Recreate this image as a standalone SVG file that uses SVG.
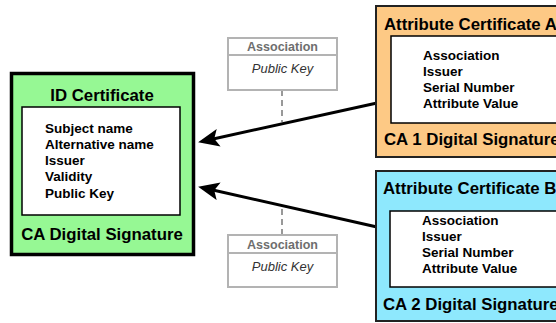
<svg xmlns="http://www.w3.org/2000/svg" width="556" height="323" viewBox="0 0 556 323">
<defs>
<style>
.title{font-family:"Liberation Sans",Arial,sans-serif;font-weight:bold;font-size:16.8px;fill:#000}
.item{font-family:"Liberation Sans",Arial,sans-serif;font-weight:bold;font-size:13.5px;fill:#000}
.assoc{font-family:"Liberation Sans",Arial,sans-serif;font-weight:bold;font-size:12.5px;fill:#6e6e6e}
.pk{font-family:"Liberation Sans",Arial,sans-serif;font-style:italic;font-size:13px;fill:#333}
.inner{fill:#fff;stroke:#000;stroke-width:1.5}
.abox{fill:#fff;stroke:#b3b3b3;stroke-width:2}
.arrow{stroke:#000;stroke-width:3;fill:none;marker-end:url(#ah)}
.dash{stroke:#999;stroke-width:2;stroke-dasharray:6 4;fill:none}
</style>
<marker id="ah" markerWidth="7" markerHeight="6" refX="5" refY="3" orient="auto" markerUnits="strokeWidth">
<path d="M0,0 L7,3 L0,6 L1.5,3 Z" fill="#000"/>
</marker>
</defs>
<g id="connectors">
<line class="dash" x1="282" y1="90" x2="282" y2="122"/>
<line class="dash" x1="282" y1="235" x2="282" y2="205"/>
<line class="arrow" x1="377" y1="103" x2="204" y2="141"/>
<line class="arrow" x1="377" y1="227" x2="204" y2="188"/>
</g>
<g id="assoc1">
<rect class="abox" x="228" y="38" width="109" height="52"/>
<line x1="228" y1="55" x2="337" y2="55" stroke="#b3b3b3" stroke-width="2"/>
<text class="assoc" x="282.5" y="51" text-anchor="middle">Association</text>
<text class="pk" x="282.5" y="73" text-anchor="middle">Public Key</text>
</g>
<g id="assoc2">
<rect class="abox" x="228" y="235" width="109" height="52"/>
<line x1="228" y1="253" x2="337" y2="253" stroke="#b3b3b3" stroke-width="2"/>
<text class="assoc" x="282.5" y="248.5" text-anchor="middle">Association</text>
<text class="pk" x="282.5" y="271" text-anchor="middle">Public Key</text>
</g>
<g id="id-cert">
<rect x="11.5" y="73.5" width="182" height="181" fill="#96F894" stroke="#000" stroke-width="3.5"/>
<rect class="inner" x="22" y="107" width="158" height="108"/>
<text class="title" x="102" y="101" text-anchor="middle">ID Certificate</text>
<text class="item" x="45" y="132.5">Subject name</text>
<text class="item" x="45" y="148.8">Alternative name</text>
<text class="item" x="45" y="165">Issuer</text>
<text class="item" x="45" y="181.3">Validity</text>
<text class="item" x="45" y="197.6">Public Key</text>
<text class="title" x="102" y="240" text-anchor="middle">CA Digital Signature</text>
</g>
<g id="attr-cert-a">
<rect x="376" y="6" width="190" height="151" fill="#FDC985" stroke="#222" stroke-width="2"/>
<rect class="inner" x="391" y="36" width="180" height="87"/>
<text class="title" x="384" y="30">Attribute Certificate A</text>
<text class="item" x="423" y="59.5">Association</text>
<text class="item" x="423" y="75.8">Issuer</text>
<text class="item" x="423" y="92">Serial Number</text>
<text class="item" x="423" y="108.3">Attribute Value</text>
<text class="title" x="384" y="145">CA 1 Digital Signature</text>
</g>
<g id="attr-cert-b">
<rect x="376" y="171" width="190" height="150" fill="#8EE8FD" stroke="#222" stroke-width="2"/>
<rect class="inner" x="390" y="211" width="180" height="76"/>
<text class="title" x="383" y="194">Attribute Certificate B</text>
<text class="item" x="422" y="224.5">Association</text>
<text class="item" x="422" y="240.8">Issuer</text>
<text class="item" x="422" y="257">Serial Number</text>
<text class="item" x="422" y="273.3">Attribute Value</text>
<text class="title" x="383" y="310">CA 2 Digital Signature</text>
</g>
</svg>
